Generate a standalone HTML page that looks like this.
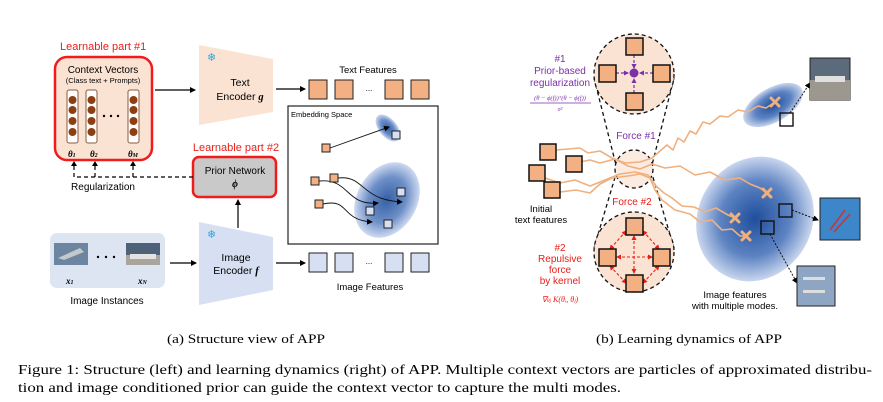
<!DOCTYPE html>
<html><head><meta charset="utf-8"><style>
html,body{margin:0;padding:0;background:#fff;width:883px;height:402px;overflow:hidden}
svg{display:block}
text{font-family:"Liberation Sans",sans-serif}
.serif,.serif *{font-family:"Liberation Serif",serif}
</style></head><body>
<svg width="883" height="402" viewBox="0 0 883 402" xmlns="http://www.w3.org/2000/svg">
<defs>
<marker id="ah" markerWidth="6" markerHeight="6" refX="5" refY="3" orient="auto" markerUnits="userSpaceOnUse"><path d="M0,0 L6,3 L0,6 z" fill="#000"/></marker>
<marker id="ahp" markerWidth="5" markerHeight="5" refX="4" refY="2.5" orient="auto" markerUnits="userSpaceOnUse"><path d="M0,0 L5,2.5 L0,5 z" fill="#7b2fa8"/></marker>
<marker id="ahr" markerWidth="5" markerHeight="5" refX="4" refY="2.5" orient="auto-start-reverse" markerUnits="userSpaceOnUse"><path d="M0,0 L5,2.5 L0,5 z" fill="#e8201a"/></marker>
<radialGradient id="bl"><stop offset="0" stop-color="#1f4e9c"/><stop offset="0.6" stop-color="#5d83c2"/><stop offset="1" stop-color="#c9d6ee"/></radialGradient>
</defs>

<!-- LEFT PANEL -->
<text x="60" y="50" font-size="11" fill="#e8201a">Learnable part #1</text>
<rect x="55" y="57" width="97" height="103" rx="12" fill="#fbe3d4" stroke="#f01c1c" stroke-width="2.5"/>
<text x="103" y="73" font-size="10" text-anchor="middle">Context Vectors</text>
<text x="103" y="83" font-size="7.5" text-anchor="middle">(Class text + Prompts)</text>
<g fill="#fff" stroke="#8b5a3c" stroke-width="1"><rect x="67" y="90" width="11" height="53" rx="2"/><rect x="86" y="90" width="11" height="53" rx="2"/><rect x="128" y="90" width="11" height="53" rx="2"/></g>
<g fill="#8b3f12">
<circle cx="72.5" cy="100" r="4"/><circle cx="72.5" cy="110" r="4"/><circle cx="72.5" cy="121" r="4"/><circle cx="72.5" cy="132" r="4"/>
<circle cx="91.5" cy="100" r="4"/><circle cx="91.5" cy="110" r="4"/><circle cx="91.5" cy="121" r="4"/><circle cx="91.5" cy="132" r="4"/>
<circle cx="133.5" cy="100" r="4"/><circle cx="133.5" cy="110" r="4"/><circle cx="133.5" cy="121" r="4"/><circle cx="133.5" cy="132" r="4"/>
<circle cx="104" cy="116" r="1.2" fill="#000"/><circle cx="111" cy="116" r="1.2" fill="#000"/><circle cx="118" cy="116" r="1.2" fill="#000"/>
</g>
<g class="serif" font-size="9" font-style="italic" font-weight="bold"><text x="68" y="157">θ<tspan font-size="6">1</tspan></text><text x="90" y="157">θ<tspan font-size="6">2</tspan></text><text x="128" y="157">θ<tspan font-size="6">M</tspan></text></g>
<line x1="155" y1="90" x2="195" y2="90" stroke="#000" stroke-width="1.2" marker-end="url(#ah)"/>
<polygon points="199,45 273,59 273,112 199,125" fill="#fbe3d4"/>
<text x="207" y="61" font-size="11" fill="#2aa7e0">❄</text>
<text x="240" y="86" font-size="10.5" text-anchor="middle">Text</text>
<text x="240" y="100" font-size="10.5" text-anchor="middle">Encoder <tspan class="serif" font-style="italic" font-weight="bold">g</tspan></text>
<line x1="276" y1="89" x2="305" y2="89" stroke="#000" stroke-width="1.2" marker-end="url(#ah)"/>
<text x="368" y="73" font-size="9.5" text-anchor="middle">Text Features</text>
<g fill="#f2b083" stroke="#222" stroke-width="1"><rect x="309" y="80" width="18" height="19"/><rect x="335" y="80" width="18" height="19"/><rect x="385" y="80" width="18" height="19"/><rect x="411" y="80" width="18" height="19"/></g>
<text x="369" y="91" font-size="8" text-anchor="middle">...</text>

<text x="236" y="151" font-size="11" fill="#e8201a" text-anchor="middle">Learnable part #2</text>
<rect x="193" y="157" width="83" height="40" rx="6" fill="#c9c9c9" stroke="#f01c1c" stroke-width="2.5"/>
<text x="235" y="174" font-size="10" text-anchor="middle">Prior Network</text>
<text x="235" y="187" font-size="10" text-anchor="middle" class="serif" font-style="italic" font-weight="bold">ϕ</text>
<path d="M193,177 H74 M74,177 V164 M95,177 V164 M133,177 V164" stroke="#000" stroke-width="1.2" stroke-dasharray="4,3" fill="none"/>
<g fill="#000"><path d="M71,166 L74,161 L77,166z"/><path d="M92,166 L95,161 L98,166z"/><path d="M130,166 L133,161 L136,166z"/></g>
<text x="103" y="190" font-size="10" text-anchor="middle">Regularization</text>
<line x1="238" y1="228" x2="238" y2="200" stroke="#000" stroke-width="1.2" marker-end="url(#ah)"/>

<rect x="50" y="233" width="115" height="55" rx="7" fill="#dde5f3"/>
<rect x="54" y="243" width="34" height="22" fill="#6c85a0"/><path d="M58,258 L80,248 L84,252 L64,260z" fill="#c4c8cc"/>
<rect x="126" y="243" width="34" height="22" fill="#4d6178"/><rect x="126" y="255" width="34" height="10" fill="#a9a59c"/><rect x="130" y="254" width="26" height="5" fill="#e2e2e2"/>
<g fill="#000"><circle cx="98" cy="257" r="1.2"/><circle cx="106" cy="257" r="1.2"/><circle cx="114" cy="257" r="1.2"/></g>
<text x="66" y="284" font-size="9" class="serif" font-style="italic" font-weight="bold">x<tspan font-size="6">1</tspan></text>
<text x="138" y="284" font-size="9" class="serif" font-style="italic" font-weight="bold">x<tspan font-size="6">N</tspan></text>
<text x="107" y="304" font-size="10" text-anchor="middle">Image Instances</text>
<line x1="170" y1="263" x2="196" y2="263" stroke="#000" stroke-width="1.2" marker-end="url(#ah)"/>
<polygon points="199,222 273,237 273,290 199,305" fill="#d6e0f2"/>
<text x="207" y="238" font-size="11" fill="#2aa7e0">❄</text>
<text x="236" y="261" font-size="10.5" text-anchor="middle">Image</text>
<text x="236" y="274" font-size="10.5" text-anchor="middle">Encoder <tspan class="serif" font-style="italic" font-weight="bold">f</tspan></text>
<line x1="276" y1="263" x2="305" y2="263" stroke="#000" stroke-width="1.2" marker-end="url(#ah)"/>
<g fill="#d6e0f2" stroke="#222" stroke-width="1"><rect x="309" y="253" width="18" height="19"/><rect x="335" y="253" width="18" height="19"/><rect x="385" y="253" width="18" height="19"/><rect x="411" y="253" width="18" height="19"/></g>
<text x="369" y="264" font-size="8" text-anchor="middle">...</text>
<text x="370" y="290" font-size="9.5" text-anchor="middle">Image Features</text>

<rect x="288" y="106" width="150" height="138" fill="#fff" stroke="#222" stroke-width="1.2"/>
<text x="291" y="117" font-size="7.5">Embedding Space</text>
<ellipse cx="388" cy="128" rx="9" ry="16" transform="rotate(-40 388 128)" fill="url(#bl)" opacity="0.9"/>
<ellipse cx="387" cy="200" rx="30" ry="40" transform="rotate(30 387 200)" fill="url(#bl)" opacity="0.9"/>
<g fill="#d6e0f2" stroke="#222" stroke-width="1"><rect x="392" y="131" width="8" height="8"/><rect x="397" y="188" width="8" height="8"/><rect x="366" y="207" width="8" height="8"/><rect x="384" y="220" width="8" height="8"/></g>
<g fill="none" stroke="#111" stroke-width="0.9">
<line x1="330" y1="148" x2="389" y2="127" marker-end="url(#ah)"/>
<path d="M319,181 C350,178 345,206 378,203" marker-end="url(#ah)"/>
<path d="M338,178 C365,175 360,200 402,202" marker-end="url(#ah)"/>
<path d="M323,204 C350,198 340,220 372,222" marker-end="url(#ah)"/>
</g>
<g fill="#f2b083" stroke="#222" stroke-width="1"><rect x="322" y="144" width="8" height="8"/><rect x="311" y="177" width="8" height="8"/><rect x="330" y="174" width="8" height="8"/><rect x="315" y="200" width="8" height="8"/></g>

<!-- RIGHT PANEL -->
<g stroke="#111" stroke-width="1.3" stroke-dasharray="4,3" fill="none">
<line x1="594" y1="78" x2="616" y2="165"/><line x1="674" y1="78" x2="652" y2="165"/>
<line x1="594" y1="248" x2="616" y2="174"/><line x1="674" y1="248" x2="652" y2="174"/>
</g>
<circle cx="634" cy="74" r="40" fill="#fbe3d4" stroke="#111" stroke-width="1.3" stroke-dasharray="4,3"/>
<circle cx="634" cy="252" r="40" fill="#fbe3d4" stroke="#111" stroke-width="1.3" stroke-dasharray="4,3"/>
<g stroke="#7b2fa8" stroke-width="1.2" stroke-dasharray="3,2" fill="none">
<line x1="634" y1="55" x2="634" y2="68" marker-end="url(#ahp)"/><line x1="634" y1="93" x2="634" y2="79" marker-end="url(#ahp)"/>
<line x1="616" y1="73" x2="628" y2="73" marker-end="url(#ahp)"/><line x1="653" y1="73" x2="640" y2="73" marker-end="url(#ahp)"/>
</g>
<circle cx="634" cy="73" r="4.5" fill="#7b2fa8"/>
<g stroke="#e8201a" stroke-width="1.1" stroke-dasharray="3,2" fill="none" marker-end="url(#ahr)" marker-start="url(#ahr)">
<line x1="634" y1="236" x2="634" y2="273"/><line x1="617" y1="257" x2="652" y2="257"/>
<line x1="626" y1="231" x2="610" y2="249"/><line x1="643" y1="231" x2="659" y2="249"/>
<line x1="610" y1="266" x2="626" y2="283"/><line x1="659" y1="266" x2="643" y2="283"/>
</g>
<g fill="#f2b083" stroke="#111" stroke-width="1.5">
<rect x="626" y="38" width="17" height="17"/><rect x="599" y="65" width="17" height="17"/><rect x="653" y="65" width="17" height="17"/><rect x="626" y="93" width="17" height="17"/>
<rect x="626" y="218" width="17" height="17"/><rect x="599" y="249" width="17" height="17"/><rect x="653" y="249" width="17" height="17"/><rect x="626" y="275" width="17" height="17"/>
</g>
<text x="560" y="62" font-size="10" fill="#7b2fa8" text-anchor="middle">#1</text>
<text x="560" y="74" font-size="10" fill="#7b2fa8" text-anchor="middle">Prior-based</text>
<text x="560" y="86" font-size="10" fill="#7b2fa8" text-anchor="middle">regularization</text>
<text x="560" y="100" font-size="6.5" fill="#7b2fa8" text-anchor="middle" class="serif" font-style="italic">(θ − ϕ(f))ᵀ(θ − ϕ(f))</text>
<line x1="530" y1="103" x2="591" y2="103" stroke="#7b2fa8" stroke-width="0.7"/>
<text x="560" y="111" font-size="6" fill="#7b2fa8" text-anchor="middle" class="serif" font-style="italic">σ²</text>
<text x="636" y="139" font-size="10" fill="#7b2fa8" text-anchor="middle">Force #1</text>
<text x="632" y="205" font-size="10" fill="#e8201a" text-anchor="middle">Force #2</text>
<text x="560" y="251" font-size="10" fill="#e8201a" text-anchor="middle">#2</text>
<text x="560" y="262" font-size="10" fill="#e8201a" text-anchor="middle">Repulsive</text>
<text x="560" y="273" font-size="10" fill="#e8201a" text-anchor="middle">force</text>
<text x="560" y="284" font-size="10" fill="#e8201a" text-anchor="middle">by kernel</text>
<text x="560" y="302" font-size="8" fill="#e8201a" text-anchor="middle" class="serif" font-style="italic">∇<tspan font-size="5">θj</tspan> K(θᵢ, θⱼ)</text>

<ellipse cx="773" cy="105" rx="33" ry="17" transform="rotate(-30 773 105)" fill="url(#bl)"/>
<ellipse cx="755" cy="219" rx="57" ry="64" transform="rotate(30 755 219)" fill="url(#bl)"/>

<circle cx="634" cy="169" r="19" fill="#fbe3d4" fill-opacity="0.7" stroke="#111" stroke-width="1.3" stroke-dasharray="4,3"/>
<g fill="none" stroke="#f0b07e" stroke-width="1.6" stroke-linejoin="round">
<path d="M556,150 L580,148 588,153 600,151 612,158 625,163 640,162 652,158 660,151 667,145 673,150 678,138 684,142 690,131 696,134 703,122 710,124 720,116 728,117 738,110 748,112 758,106 766,108 775,102"/>
<path d="M574,163 L590,160 600,163 615,159 628,166 640,169 652,164 665,168 680,166 695,175 710,172 725,180 740,178 750,184 760,188 767,193"/>
<path d="M545,178 L560,183 575,180 590,186 605,180 620,174 635,172 648,175 656,186 664,193 672,198 682,206 694,207 705,212 716,208 728,215 735,218"/>
<path d="M560,192 L576,190 590,193 600,184 612,178 628,176 640,174 650,178 655,190 662,200 675,210 690,214 700,222 712,220 722,230 732,229 740,236 746,236"/>
</g>
<g stroke="#f0b07e" stroke-width="3" stroke-linecap="round">
<path d="M771,98 L779,106 M779,98 L771,106"/><path d="M763,189 L771,197 M771,189 L763,197"/>
<path d="M731,214 L739,222 M739,214 L731,222"/><path d="M742,232 L750,240 M750,232 L742,240"/>
</g>
<g fill="#f2b083" stroke="#111" stroke-width="1.5">
<rect x="540" y="144" width="16" height="16"/><rect x="566" y="156" width="16" height="16"/><rect x="529" y="165" width="16" height="16"/><rect x="544" y="182" width="16" height="16"/>
</g>
<text x="541" y="212" font-size="9.5" text-anchor="middle">Initial</text>
<text x="541" y="223" font-size="9.5" text-anchor="middle">text features</text>

<g fill="none" stroke="#111" stroke-width="1.4"><rect x="780" y="113" width="13" height="13"/><rect x="779" y="204" width="13" height="13"/><rect x="761" y="221" width="13" height="13"/></g>
<g stroke="#111" stroke-width="1" stroke-dasharray="2,1.5"><line x1="790" y1="113" x2="810" y2="83" marker-end="url(#ah)"/><line x1="792" y1="210" x2="818" y2="220" marker-end="url(#ah)"/><line x1="770" y1="234" x2="797" y2="283" marker-end="url(#ah)"/></g>
<rect x="810" y="58" width="40" height="42" fill="#5c6b7c" stroke="#222"/><rect x="810" y="80" width="40" height="20" fill="#9c9890"/><rect x="815" y="76" width="30" height="6" fill="#e0e0e0"/>
<rect x="820" y="198" width="40" height="42" fill="#3c86c9" stroke="#222"/><path d="M830,230 L845,210 M834,232 L850,214" stroke="#c33" stroke-width="1.5"/>
<rect x="797" y="266" width="38" height="40" fill="#8ea6c3" stroke="#222"/><rect x="803" y="277" width="22" height="3" fill="#ddd"/><rect x="803" y="290" width="22" height="3" fill="#ddd"/>
<text x="735" y="298" font-size="9.5" text-anchor="middle">Image features</text>
<text x="735" y="309" font-size="9.5" text-anchor="middle">with multiple modes.</text>

<!-- captions -->
<g class="serif" font-size="12.5"><text x="167" y="343" textLength="158" lengthAdjust="spacingAndGlyphs">(a) Structure view of APP</text>
<text x="596" y="343" textLength="186" lengthAdjust="spacingAndGlyphs">(b) Learning dynamics of APP</text></g>
<g class="serif" font-size="14"><text x="18" y="374" textLength="854" lengthAdjust="spacingAndGlyphs">Figure 1: Structure (left) and learning dynamics (right) of APP. Multiple context vectors are particles of approximated distribu-</text>
<text x="18" y="392" textLength="603" lengthAdjust="spacingAndGlyphs">tion and image conditioned prior can guide the context vector to capture the multi modes.</text></g>
</svg>
</body></html>
